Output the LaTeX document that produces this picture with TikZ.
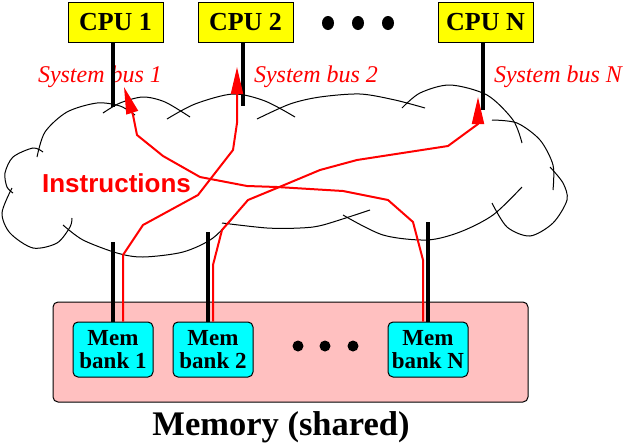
\documentclass[tikz,border=0pt]{standalone}
\usepackage{fontspec}
\setmainfont{Liberation Serif}
\newfontfamily\helv{Liberation Sans}
\usetikzlibrary{arrows.meta}
\definecolor{cpuyellow}{RGB}{255,255,0}
\definecolor{bankcyan}{RGB}{0,255,255}
\definecolor{mempink}{RGB}{255,192,192}
\definecolor{busred}{RGB}{255,0,0}
\begin{document}
\begin{tikzpicture}[x=1pt,y=-1pt,
  cpubox/.style={draw=black, line width=1pt, fill=cpuyellow, minimum width=95pt, minimum height=40pt, inner sep=0pt, font=\fontsize{26}{28}\selectfont\bfseries},
  bankbox/.style={draw=black, line width=1pt, fill=bankcyan, rounded corners=5pt, minimum width=80pt, minimum height=55pt, inner sep=0pt, align=center, font=\fontsize{23}{23}\selectfont\bfseries},
  membox/.style={draw=black, line width=1pt, fill=mempink, rounded corners=5pt, inner sep=0pt},
  buslabel/.style={text=busred, font=\fontsize{24}{24}\selectfont\itshape, anchor=base, inner sep=0pt},
  cloudarc/.style={draw=black, line width=1pt},
  busline/.style={draw=black, line width=4pt},
  flow/.style={draw=busred, line width=2pt, line join=round, -{Triangle[length=27pt,width=12pt]}},
  blackdot/.style={fill=black, draw=none},
]
\useasboundingbox (0,0) rectangle (633,445);

% cloud
\draw[cloudarc] plot[smooth] coordinates {(37,157) (45,132) (67,112) (97,103) (120,106) (135,115)};
\draw[cloudarc] plot[smooth] coordinates {(103,113) (120,103) (143,97) (165,102) (190,117)};
\draw[cloudarc] plot[smooth] coordinates {(167,119) (195,104) (233,94) (265,101) (295,117)};
\draw[cloudarc] plot[smooth] coordinates {(257,119) (290,104) (320,97) (360,94) (395,100) (425,108)};
\draw[cloudarc] plot[smooth] coordinates {(402,108) (420,93) (450,85) (487,95) (513,120) (522,143)};
\draw[cloudarc] plot[smooth] coordinates {(492,120) (517,123) (540,140) (553,165) (553,190)};
\draw[cloudarc] plot[smooth] coordinates {(550,167) (563,183) (567,200) (553,223) (530,236) (507,227) (492,203)};
\draw[cloudarc] plot[smooth] coordinates {(522,187) (493,215) (460,232) (427,240) (383,235) (343,215)};
\draw[cloudarc] plot[smooth] coordinates {(370,210) (323,225) (300,228) (267,228) (222,223)};
\draw[cloudarc] plot[smooth] coordinates {(63,225) (83,240) (117,253) (143,257) (183,252) (213,238) (237,213)};
\draw[cloudarc] plot[smooth] coordinates {(12,188) (2,213) (10,233) (33,248) (57,243) (70,227) (72,218)};
\draw[cloudarc] plot[smooth] coordinates {(43,152) (33,148) (13,157) (5,173) (7,187) (13,193)};

% labels
\node[buslabel] (lab1) at (100,82) {System bus 1};
\node[buslabel] (lab2) at (316,82) {System bus 2};
\node[buslabel] (labN) at (558,82) {System bus N};
\node[anchor=base, inner sep=0pt, text=busred, font=\helv\fontsize{26}{26}\selectfont\bfseries] (instr) at (116.5,192) {Instructions};

% CPUs
\node[cpubox] (cpu1) at (115.5,22) {CPU 1};
\node[cpubox] (cpu2) at (245.5,22) {CPU 2};
\node[cpubox] (cpuN) at (485.5,22) {CPU N};
\fill[blackdot] (328,23) ellipse [x radius=6, y radius=7];
\fill[blackdot] (358,23) ellipse [x radius=6, y radius=7];
\fill[blackdot] (388,23) ellipse [x radius=6, y radius=7];

% memory
\node[membox, minimum width=475pt, minimum height=100pt] (mem) at (290.5,352) {};
\node[bankbox] (bank1) at (113,349.5) {Mem\\bank 1};
\node[bankbox] (bank2) at (213,349.5) {Mem\\bank 2};
\node[bankbox] (bankN) at (428,349.5) {Mem\\bank N};
\fill[blackdot] (298,346) circle [radius=5.5];
\fill[blackdot] (325,346) circle [radius=5.5];
\fill[blackdot] (353,346) circle [radius=5.5];
\node[anchor=base, inner sep=0pt, font=\fontsize{34.5}{34.5}\selectfont\bfseries] (memlabel) at (281,435) {Memory (shared)};

% bus line ends
\coordinate (b1) at (113,107);
\coordinate (b2) at (243,106);
\coordinate (bN) at (483,110);
\coordinate (m1) at (113,242);
\coordinate (m2) at (208,232);
\coordinate (mN) at (428,222);
\coordinate (tip1) at (124,87);
\coordinate (tip2) at (237,67);
\coordinate (tipN) at (478,97);

\draw[busline] ([xshift=-2.5pt]cpu1.south) -- (b1);
\draw[busline] ([xshift=-2.5pt]cpu2.south) -- (b2);
\draw[busline] ([xshift=-2.5pt]cpuN.south) -- (bN);
\draw[busline] (bank1.north) -- (m1);
\draw[busline] ([xshift=-5pt]bank2.north) -- (m2);
\draw[busline] (bankN.north) -- (mN);

% instruction flows
\draw[flow] ([xshift=-5pt]bankN.north) -- (423,260) -- (413,222) -- (388,200) -- (343,191) -- (277,187) -- (247,186) -- (200,177) -- (163,156) -- (137,135) -- (133,115) -- (tip1);
\draw[flow] ([xshift=10pt]bank1.north) -- (123,255) -- (143,225) -- (198,195) -- (233,150) -- (237,123) -- (tip2);
\draw[flow] (bank2.north) -- (213,265) -- (222,230) -- (248,200) -- (277,188) -- (320,170) -- (357,160) -- (448,146) -- (478,124) -- (tipN);
\end{tikzpicture}
\end{document}
